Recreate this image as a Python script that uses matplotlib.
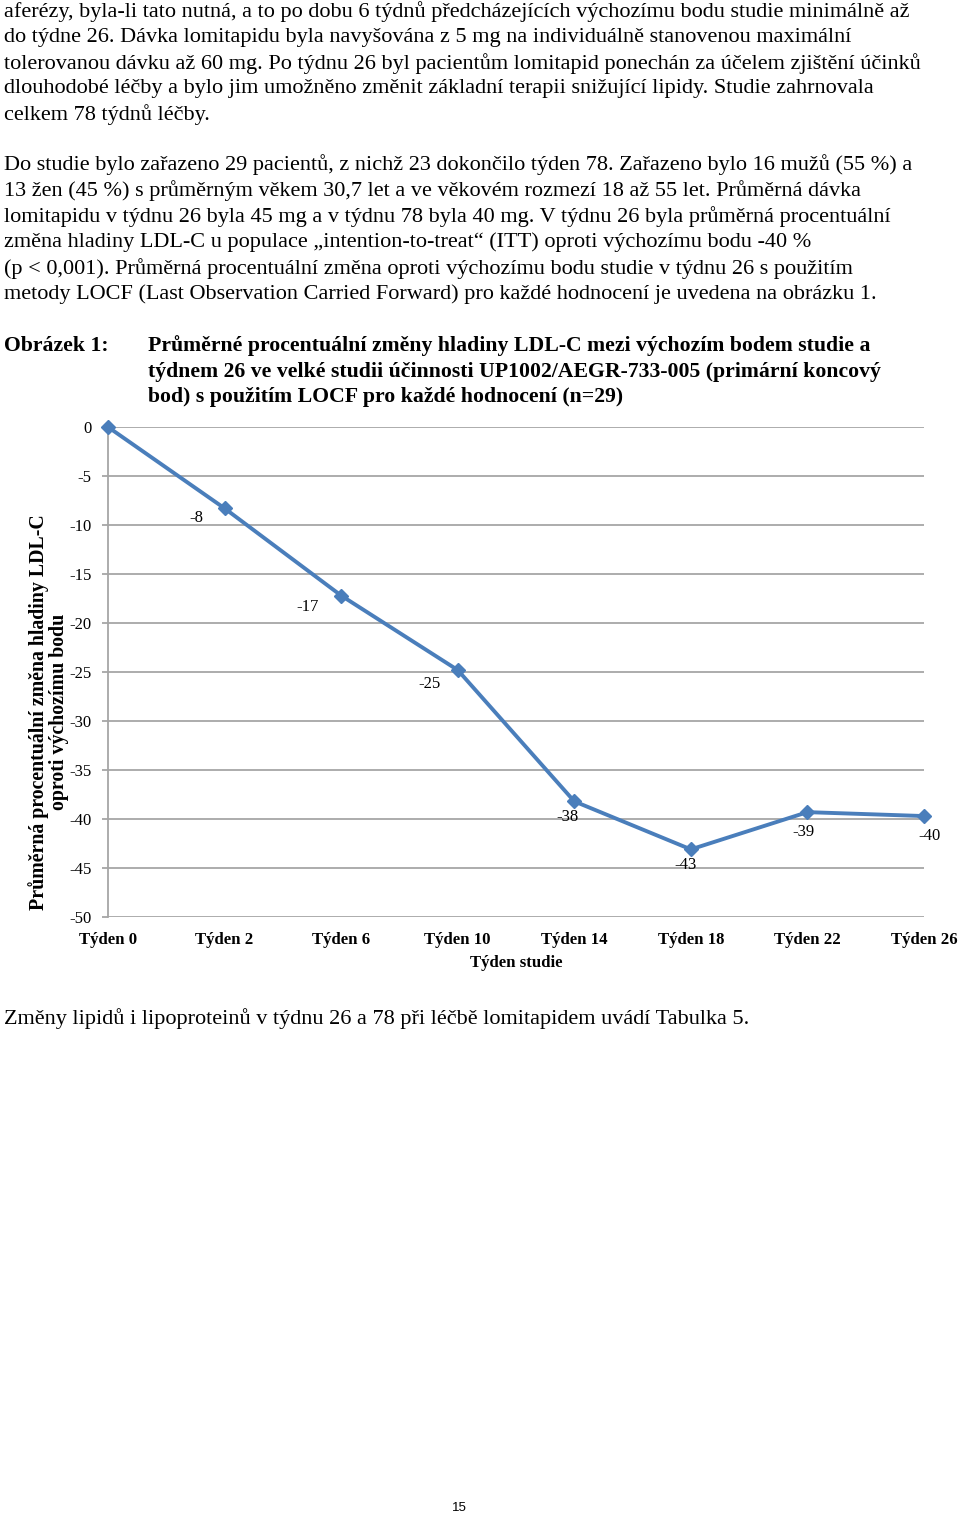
import matplotlib
matplotlib.use("Agg")
import matplotlib.pyplot as plt

# ---------------- data ----------------
categories = ["Týden 0", "Týden 2", "Týden 6", "Týden 10", "Týden 14", "Týden 18", "Týden 22", "Týden 26"]
ldl_change = [0.0, -8.3, -17.2, -24.8, -38.2, -43.1, -39.3, -39.7]
point_labels = ["", "-8", "-17", "-25", "-38", "-43", "-39", "-40"]
y_ticks = [0, -5, -10, -15, -20, -25, -30, -35, -40, -45, -50]

para1 = [
    "aferézy, byla-li tato nutná, a to po dobu 6 týdnů předcházejících výchozímu bodu studie minimálně až",
    "do týdne 26. Dávka lomitapidu byla navyšována z 5 mg na individuálně stanovenou maximální",
    "tolerovanou dávku až 60 mg. Po týdnu 26 byl pacientům lomitapid ponechán za účelem zjištění účinků",
    "dlouhodobé léčby a bylo jim umožněno změnit základní terapii snižující lipidy. Studie zahrnovala",
    "celkem 78 týdnů léčby.",
]
para2 = [
    "Do studie bylo zařazeno 29 pacientů, z nichž 23 dokončilo týden 78. Zařazeno bylo 16 mužů (55 %) a",
    "13 žen (45 %) s průměrným věkem 30,7 let a ve věkovém rozmezí 18 až 55 let. Průměrná dávka",
    "lomitapidu v týdnu 26 byla 45 mg a v týdnu 78 byla 40 mg. V týdnu 26 byla průměrná procentuální",
    "změna hladiny LDL-C u populace „intention-to-treat“ (ITT) oproti výchozímu bodu -40 %",
    "(p < 0,001). Průměrná procentuální změna oproti výchozímu bodu studie v týdnu 26 s použitím",
    "metody LOCF (Last Observation Carried Forward) pro každé hodnocení je uvedena na obrázku 1.",
]
caption_label = "Obrázek 1:"
caption = [
    "Průměrné procentuální změny hladiny LDL-C mezi výchozím bodem studie a",
    "týdnem 26 ve velké studii účinnosti UP1002/AEGR-733-005 (primární koncový",
    "bod) s použitím LOCF pro každé hodnocení (n=29)",
]
final_line = "Změny lipidů i lipoproteinů v týdnu 26 a 78 při léčbě lomitapidem uvádí Tabulka 5."
y_label = "Průměrná procentuální změna hladiny LDL-C\noproti výchozímu bodu"
x_label = "Týden studie"
page_no = "15"

# ---------------- figure ----------------
W, H = 960, 1518
fig = plt.figure(figsize=(W / 100, H / 100), dpi=100)
fig.patch.set_facecolor("white")
serif = ["Liberation Serif", "DejaVu Serif"]

def px(x, y):
    return x / W, 1 - y / H

body_fs = 16.0
for i, line in enumerate(para1):
    fig.text(*px(4, 12 + i * 25.6), line, family=serif, fontsize=body_fs, va="center", ha="left")
for i, line in enumerate(para2):
    fig.text(*px(4, 165 + i * 25.8), line, family=serif, fontsize=body_fs, va="center", ha="left")
fig.text(*px(4, 346), caption_label, family=serif, fontsize=15.7, fontweight="bold", va="center", ha="left")
for i, line in enumerate(caption):
    fig.text(*px(148, 346 + i * 25.5), line, family=serif, fontsize=15.7, fontweight="bold", va="center", ha="left")
fig.text(*px(4, 1019), final_line, family=serif, fontsize=body_fs, va="center", ha="left")
fig.text(*px(459, 1508), page_no, family=["Liberation Sans", "DejaVu Sans"], fontsize=9.5, va="center", ha="center")

# ---------------- chart ----------------
left, right = 108, 924
top, bottom = 427, 917
ax = fig.add_axes([left / W, 1 - bottom / H, (right - left) / W, (bottom - top) / H])
x = list(range(len(categories)))
blue = "#4A7EBB"
ax.plot(x, ldl_change, color=blue, lw=2.8, marker="D", ms=7, mec=blue, mfc=blue, zorder=3, clip_on=False)

offsets = [(0, 0), (-20, -7), (-24, -8), (-20, -10), (-5, -11), (-4, -11), (-3, -14), (4, -14)]
for xi, yi, lab, off in zip(x, ldl_change, point_labels, offsets):
    if lab:
        ax.annotate(lab, (xi, yi), xytext=off, textcoords="offset points",
                    ha="center", va="center", family=serif, fontsize=12)

ax.set_xlim(0, len(categories) - 1)
ax.set_ylim(-50, 0)
ax.set_yticks(y_ticks)
ax.set_yticklabels([str(v) for v in y_ticks], family=serif, fontsize=12)
ax.set_xticks(x)
ax.set_xticklabels(categories, family=serif, fontsize=12.1, fontweight="bold")
ax.grid(axis="y", color="#A6A6A6", lw=1.3)
ax.set_axisbelow(True)
for s in ["top", "right", "bottom"]:
    ax.spines[s].set_visible(False)
ax.spines["left"].set_color("#A6A6A6")
ax.spines["left"].set_linewidth(1.3)
ax.tick_params(axis="y", length=4, color="#A6A6A6", width=1.3, pad=8)
ax.tick_params(axis="x", length=0, pad=11)

fig.text(*px(516, 963), x_label, family=serif, fontsize=12.1, fontweight="bold", ha="center", va="center")
fig.text(*px(48.5, 712), y_label, family=serif, fontsize=14.3, fontweight="bold",
         rotation=90, ha="center", va="center", multialignment="center", linespacing=1.0)

fig.savefig("out.png", dpi=100, facecolor="white")
